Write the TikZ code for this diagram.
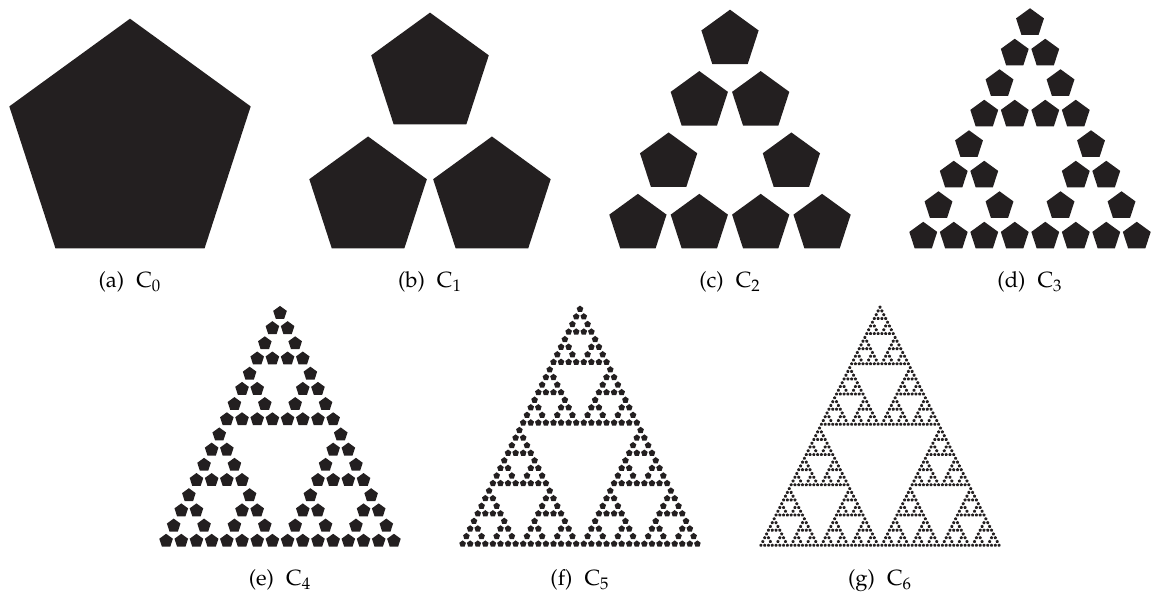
\documentclass[tikz,border=0pt]{standalone}
\usepackage[T1]{fontenc}
\usepackage{mathpazo}
\usepackage{tikz}

\definecolor{pentblack}{RGB}{35,31,32}
\tikzset{pentfill/.style={fill=pentblack},
  caption/.style={anchor=base,font=\fontsize{11}{13}\selectfont}}

% one filled pentagon: centre x, centre y, radius
\newcommand{\pentat}[3]{%
  \fill[pentfill] (#1,#2) +(90:#3) -- +(162:#3) -- +(234:#3) -- +(306:#3) -- +(18:#3) -- cycle;}

% level, top centre x, top centre y, spacing, radius
\newcommand{\pentfrac}[5]{%
  \ifnum#1=0\relax
    \pentat{#2}{#3}{#5}%
  \else
    \begingroup
    \pgfmathtruncatemacro\lvl{#1-1}%
    \pgfmathsetmacro\off{2^(#1-1)*#4}%
    \pgfmathsetmacro\xl{#2-\off/2}%
    \pgfmathsetmacro\xr{#2+\off/2}%
    \pgfmathsetmacro\yb{#3-\off}%
    \edef\pfnext{%
      \noexpand\pentfrac{\lvl}{#2}{#3}{#4}{#5}%
      \noexpand\pentfrac{\lvl}{\xl}{\yb}{#4}{#5}%
      \noexpand\pentfrac{\lvl}{\xr}{\yb}{#4}{#5}}%
    \expandafter\endgroup\pfnext
  \fi}

\begin{document}
\begin{tikzpicture}[x=0.5pt,y=0.5pt]
\useasboundingbox (0,0) rectangle (1156,592);

\foreach \n/\cx/\ybot/\lab in {0/130/343.7/a,1/430/343.7/b,2/730/343.7/c,3/1030/343.7/d,4/280/45.3/e,5/580/45.3/f,6/880/45.3/g}{
  \pgfmathsetmacro\rad{126.9*0.487^\n}
  \pgfmathsetmacro\gap{(241.4-1.902*\rad)/max(2^\n-1,1)}
  \pgfmathsetmacro\ytop{\ybot+0.809*\rad+(2^\n-1)*\gap}
  \pentfrac{\n}{\cx}{\ytop}{\gap}{\rad}
  \node[caption] (cap\lab) at (\cx,\ybot-39) {(\lab)\hspace{0.55em}$\mathrm{C}_{\n}$};
}
\end{tikzpicture}
\end{document}
